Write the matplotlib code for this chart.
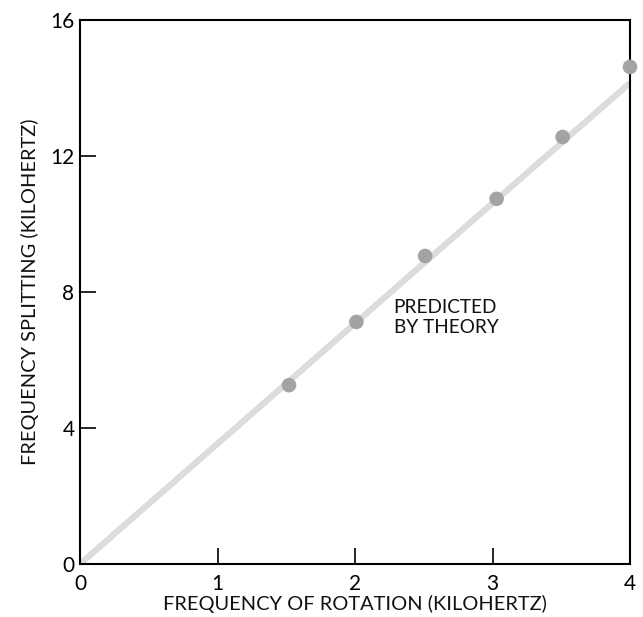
"""
Frequency splitting vs frequency of rotation, measured points against theory line
"""
import matplotlib
matplotlib.use('Agg')
import matplotlib.pyplot as plt

rotation_khz = [1.52, 2.01, 2.51, 3.03, 3.51, 4.0]
splitting_khz = [5.26, 7.12, 9.06, 10.74, 12.56, 14.62]

# theory line ends
theory_x = [0.0, 4.0]
theory_y = [0.0, 14.15]

x_ticks = [0, 1, 2, 3, 4]
y_ticks = [0, 4, 8, 12, 16]

plt.rcParams['font.family'] = ['Lato', 'DejaVu Sans']

fig = plt.figure(figsize=(6.43, 6.17), dpi=100)
ax = fig.add_axes([80 / 643, 53 / 617, 550 / 643, 544 / 617])

ax.plot(theory_x, theory_y, color='#dcdcdc', linewidth=4.5, solid_capstyle='butt', zorder=2)
ax.scatter(rotation_khz, splitting_khz, s=110, color='#a3a3a3', edgecolors='none', zorder=3, clip_on=False)

ax.text(2.28, 7.8, 'PREDICTED\nBY THEORY', fontsize=13.7, va='top', ha='left',
        linespacing=1.2, color='#111111')

ax.set_xlim(0, 4)
ax.set_ylim(0, 16)
ax.set_xticks(x_ticks)
ax.set_yticks(y_ticks)
ax.tick_params(direction='in', length=11.5, width=1.2, labelsize=15, pad=4)
ax.tick_params(axis='x', pad=7)
for spine in ax.spines.values():
    spine.set_linewidth(1.5)

ax.set_xlabel('FREQUENCY OF ROTATION (KILOHERTZ)', fontsize=14.4, labelpad=1, color='#111111')
ax.set_ylabel('FREQUENCY SPLITTING (KILOHERTZ)', fontsize=14.4, labelpad=8, color='#111111')

fig.savefig('out.png', dpi=100)
